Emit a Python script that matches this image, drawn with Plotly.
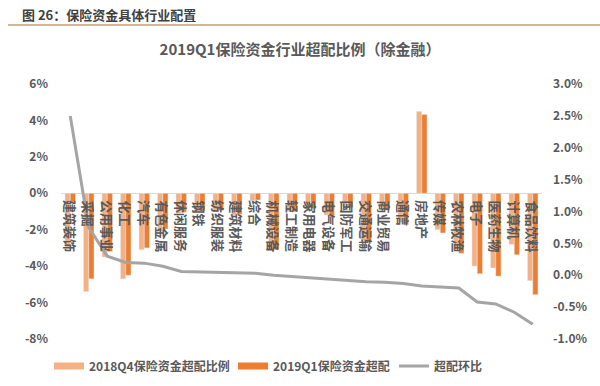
import plotly.graph_objects as go

categories = ["建筑装饰", "采掘", "公用事业", "化工", "汽车", "有色金属", "休闲服务", "钢铁",
              "纺织服装", "建筑材料", "综合", "机械设备", "轻工制造", "家用电器", "电气设备",
              "国防军工", "交通运输", "商业贸易", "通信", "房地产", "传媒", "农林牧渔", "电子",
              "医药生物", "计算机", "食品饮料"]

q4_2018 = [-3.0, -5.4, -3.5, -4.7, -3.1, -2.1, -1.1, -1.0, -1.0, -1.2, -0.40, -3.1, -1.0,
           -0.8, -1.2, -0.7, -2.6, -0.8, -1.6, 4.5, -2.0, -3.1, -4.0, -4.1, -2.8, -4.8]

q1_2019 = [-0.5, -4.7, -3.2, -4.5, -3.0, -1.96, -1.04, -0.95, -0.95, -1.16, -0.37, -3.1, -1.02,
           -0.84, -1.26, -0.79, -2.7, -0.91, -1.73, 4.33, -2.18, -3.3, -4.42, -4.55, -3.38, -5.57]

change = [2.50, 0.75, 0.30, 0.20, 0.19, 0.14, 0.06, 0.05, 0.05, 0.04, 0.03, 0.00, -0.02,
          -0.04, -0.06, -0.09, -0.10, -0.11, -0.13, -0.17, -0.18, -0.20, -0.42, -0.45, -0.58, -0.77]

left_ticks = [-8, -6, -4, -2, 0, 2, 4, 6]
left_labels = ["-8%", "-6%", "-4%", "-2%", "0%", "2%", "4%", "6%"]
right_ticks = [-1.0, -0.5, 0.0, 0.5, 1.0, 1.5, 2.0, 2.5, 3.0]
right_labels = ["-1.0%", "-0.5%", "0.0%", "0.5%", "1.0%", "1.5%", "2.0%", "2.5%", "3.0%"]

name_q4 = "2018Q4保险资金超配比例"
name_q1 = "2019Q1保险资金超配"
name_chg = "超配环比"

LIGHT = "#F4B183"
DARK = "#ED7D31"
GRAY = "#A5A5A5"
TXT = "#595959"
FONT = "Noto Sans CJK SC"

fig = go.Figure()
fig.add_trace(go.Bar(x=categories, y=q4_2018, name=name_q4, marker_color=LIGHT,
                     showlegend=False))
fig.add_trace(go.Bar(x=categories, y=q1_2019, name=name_q1, marker_color=DARK,
                     showlegend=False))
fig.add_trace(go.Scatter(x=categories, y=change, name=name_chg, mode="lines",
                         line=dict(color=GRAY, width=3), yaxis="y2", legend="legend3"))
# legend proxies (wide swatches like the original)
fig.add_trace(go.Scatter(x=[None], y=[None], mode="lines", name=name_q4,
                         line=dict(color=LIGHT, width=7), legend="legend"))
fig.add_trace(go.Scatter(x=[None], y=[None], mode="lines", name=name_q1,
                         line=dict(color=DARK, width=7), legend="legend2"))

annotations = []
for c in categories:
    annotations.append(dict(x=c, y=0, xref="x", yref="y", text=c, textangle=90,
                            showarrow=False, xanchor="center", yanchor="top", yshift=-5,
                            font=dict(family=FONT, size=13, color=TXT, weight="bold")))

# plot area in pixels: x 61..542, y 84..339
def px_x(p):
    return (p - 61) / 481.0

def px_y(p):
    return (339 - p) / 255.0

annotations.append(dict(x=px_x(20), y=px_y(14), xref="paper", yref="paper",
                        text="图 26：保险资金具体行业配置", showarrow=False,
                        xanchor="left", yanchor="middle",
                        font=dict(family=FONT, size=13, color="#404040", weight="bold")))

shapes = [dict(type="line", xref="paper", yref="paper", x0=px_x(8), x1=px_x(600),
               y0=px_y(25), y1=px_y(25), line=dict(color="#CDB999", width=2))]

legend_font = dict(family=FONT, size=12, color=TXT, weight="bold")
leg_common = dict(orientation="h", yanchor="middle", xanchor="left", font=legend_font,
                  bgcolor="rgba(0,0,0,0)", itemwidth=30, tracegroupgap=0)

fig.update_layout(
    width=600, height=386,
    margin=dict(l=61, r=58, t=84, b=47, autoexpand=False),
    paper_bgcolor="white", plot_bgcolor="white",
    barmode="group", bargap=0.43, bargroupgap=0,
    title=dict(text="2019Q1保险资金行业超配比例（除金融）", x=0.5, xanchor="center",
               y=1 - 50 / 386, yanchor="middle",
               font=dict(family=FONT, size=15, color=TXT, weight="bold")),
    xaxis=dict(type="category", showticklabels=False, showgrid=False, showline=False,
               zeroline=False, ticks="", range=[-0.5, len(categories) - 0.5]),
    yaxis=dict(range=[-8, 6], tickvals=left_ticks, ticktext=left_labels, showgrid=False,
               zeroline=True, zerolinecolor="#D9D9D9", zerolinewidth=1, showline=False,
               ticks="", ticklabelstandoff=12,
               tickfont=dict(family=FONT, size=12, color=TXT, weight="bold")),
    yaxis2=dict(range=[-1, 3], tickvals=right_ticks, ticktext=right_labels, overlaying="y",
                side="right", showgrid=False, zeroline=False, showline=False, ticks="",
                ticklabelstandoff=10,
                tickfont=dict(family=FONT, size=12, color=TXT, weight="bold")),
    legend=dict(x=px_x(49), y=px_y(366), **leg_common),
    legend2=dict(x=px_x(233), y=px_y(366), **leg_common),
    legend3=dict(x=px_x(394), y=px_y(366), **leg_common),
    annotations=annotations,
    shapes=shapes,
)

fig.write_html("out.html",
               config={"displayModeBar": False},
               post_script="document.body.style.margin='0';document.body.style.overflow='hidden';")
